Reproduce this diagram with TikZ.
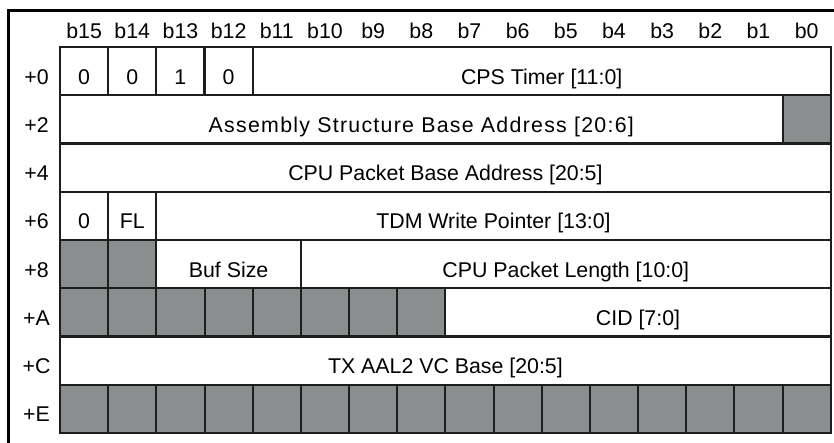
\documentclass[tikz,border=0pt]{standalone}
\usepackage{fontspec}
\setmainfont{Liberation Sans}
\usepackage{tikz}
\usetikzlibrary{positioning}
\definecolor{padgray}{RGB}{138,142,142}
\definecolor{gridline}{RGB}{30,30,30}
\newcommand\fieldfont{\fontsize{16}{19}\selectfont}

\begin{document}
\begin{tikzpicture}[x=0.75pt, y=-0.75pt,
    cell/.style={draw=gridline, line width=1.5pt, minimum width=#1*36.13pt, minimum height=36.19pt,
                 inner sep=0pt, text height=19.5pt, text depth=0pt, font=\fieldfont},
    cell/.default=1,
    pad/.style={cell=#1, fill=padgray},
    pad/.default=1,
    rowlbl/.style={inner sep=0pt, text height=19.5pt, text depth=0pt, font=\fieldfont},
    bitlbl/.style={inner sep=0pt, anchor=base, font=\fieldfont}]
    \useasboundingbox (0,0) rectangle (834,442);
    % Outer frame (top and left edges only)
    \draw[line width=2.25pt, line cap=rect] (834,10.3) -- (8.5,10.3) -- (8.5,442);
    % Bit numbers along the top
    \foreach \b [count=\i from 0] in {15,14,...,0}
        \node[bitlbl] (bit\b) at ({84.1+48.17*\i},38.5) {b\b};
    % Offsets on the left
    \foreach \o [count=\j from 0] in {0,2,4,6,8,A,C,E}
        \node[rowlbl] (off\o) at (36.5,{71.1+48.25*\j}) {+\o};
    % +0
    \node[cell] (idA) at (84.1,71.1) {0};
    \node[cell] (idB) at (132.3,71.1) {0};
    \node[cell] (idC) at (180.4,71.1) {1};
    \node[cell] (idD) at (228.6,71.1) {0};
    \node[cell=12] (cps) at (541.7,71.1) {CPS Timer [11:0]};
    % +2
    \node[cell=15] (asm) at (421.3,119.4) {\addfontfeature{LetterSpace=6}Assembly Structure Base Address [20:6]};
    \node[pad] (asmPad) at (806.6,119.4) {};
    % +4
    \node[cell=16] (pkt) at (445.4,167.6) {CPU Packet Base Address [20:5]};
    % +6
    \node[cell] (zero) at (84.1,215.9) {0};
    \node[cell] (fl) at (132.3,215.9) {FL};
    \node[cell=14] (tdm) at (493.5,215.9) {TDM Write Pointer [13:0]};
    % +8
    \node[pad] (lenPadA) at (84.1,264.1) {};
    \node[pad] (lenPadB) at (132.3,264.1) {};
    \node[cell=3] (buf) at (228.6,264.1) {Buf Size};
    \node[cell=11] (len) at (565.8,264.1) {CPU Packet Length [10:0]};
    % +A
    \foreach \i in {0,...,7}
        \node[pad] (cidPad\i) at ({84.1+48.17*\i},312.4) {};
    \node[cell=8] (cid) at (638.0,312.4) {CID [7:0]};
    % +C
    \node[cell=16] (vc) at (445.4,360.6) {TX AAL2 VC Base [20:5]};
    % +E
    \foreach \i in {0,...,15}
        \node[pad] (endPad\i) at ({84.1+48.17*\i},408.9) {};
\end{tikzpicture}
\end{document}
